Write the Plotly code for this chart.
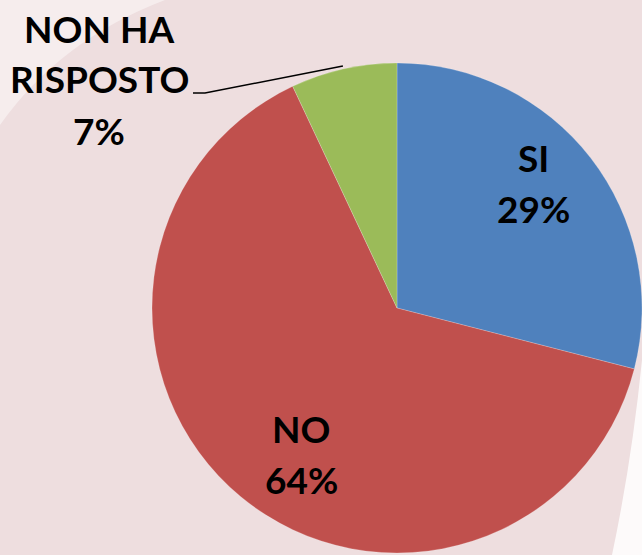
import math
import plotly.graph_objects as go

# ---- data ----
categories = ["SI", "NO", "NON HA RISPOSTO"]
values = [29, 64, 7]
colors = ["#4F81BD", "#C0504D", "#9BBB59"]

W, H = 642, 555
BG = "#EEDEDF"
FONT = "Lato"
FS = 37

# pie placement (pixels) -> domain
left_px, top_px = 152, 61
dom_x = [left_px / W, 1.0]
dom_y = [0.0, 1 - top_px / H]

total = sum(values)

fig = go.Figure()
fig.add_trace(go.Pie(
    labels=categories,
    values=values,
    sort=False,
    direction="clockwise",
    rotation=0,
    marker=dict(colors=colors, line=dict(color="rgba(255,255,255,0.35)", width=0.6)),
    textinfo="none",
    domain=dict(x=dom_x, y=dom_y),
    showlegend=False,
    hoverinfo="label+percent",
))


def px(x):
    return x / W


def py(y):
    return 1 - y / H


# label text lines (label words + rounded percent), positions in pixels
label_lines = []
for c, v in zip(categories, values):
    pct = round(v / total * 100)
    words = c.replace("HA ", "HA\n").split("\n")
    label_lines.append(words + [f"{pct}%"])

label_pos = [
    (533, [157.5, 208.5]),
    (301, [428.5, 479.0]),
    (99, [28.5, 78.5, 130.0]),
]

for lines, (lx, ys) in zip(label_lines, label_pos):
    for t, yy in zip(lines, ys):
        fig.add_annotation(
            text=f"<b>{t}</b>", x=px(lx), y=py(yy), xref="paper", yref="paper",
            xanchor="center", yanchor="middle", showarrow=False,
            font=dict(family=FONT, size=FS, color="black"),
        )

# geometry of the pie (pixels) for the outside label's leader line
dw = (dom_x[1] - dom_x[0]) * W
dh = (dom_y[1] - dom_y[0]) * H
r = min(dw, dh) / 2
cx = dom_x[0] * W + dw / 2
cy = (1 - dom_y[1]) * H + dh / 2
start = sum(values[:2]) / total * 360
mid = start + values[2] / total * 180
ang = math.radians(mid)
tipx = cx + (r + 3) * math.sin(ang)
tipy = cy - (r + 3) * math.cos(ang)

fig.add_shape(
    type="path", xref="paper", yref="paper",
    path=f"M {px(193)} {py(93)} L {px(205)} {py(93)} L {px(tipx)} {py(tipy)}",
    line=dict(color="black", width=1.5),
)

# faint background streaks
fig.add_shape(type="path", xref="paper", yref="paper", layer="below",
              path=f"M 0 {py(0)} L {px(165)} {py(0)} Q {px(60)} {py(40)} 0 {py(125)} Z",
              fillcolor="rgba(255,255,255,0.45)", line=dict(width=0))
fig.add_shape(type="path", xref="paper", yref="paper", layer="below",
              path=f"M {px(642)} {py(360)} L {px(642)} {py(555)} L {px(612)} {py(555)} Q {px(632)} {py(460)} {px(642)} {py(360)} Z",
              fillcolor="rgba(255,255,255,0.85)", line=dict(width=0))

fig.update_layout(
    width=W, height=H,
    margin=dict(l=0, r=0, t=0, b=0),
    paper_bgcolor=BG, plot_bgcolor=BG,
    font=dict(family=FONT),
)

fig.write_html(
    "out.html",
    config={"displayModeBar": False},
    post_script="document.body.style.margin='0';document.body.style.overflow='hidden';",
)
